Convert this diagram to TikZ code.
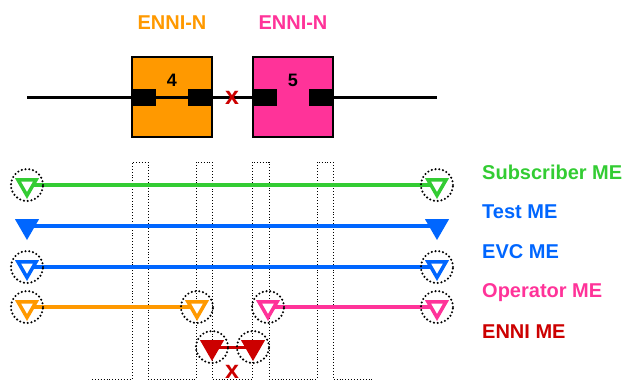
\documentclass[tikz,border=0pt]{standalone}
\usepackage{fontspec}
\setmainfont{Liberation Sans}
\usetikzlibrary{shapes.geometric,backgrounds}

\definecolor{enniorange}{HTML}{FF9900}
\definecolor{ennipink}{HTML}{FF3399}
\definecolor{megreen}{HTML}{33CC33}
\definecolor{meblue}{HTML}{0066FF}
\definecolor{mered}{HTML}{CC0000}

\begin{document}
\begin{tikzpicture}[
    x=1pt, y=-1pt,
    ennibox/.style={draw, line width=2pt, minimum width=80pt, minimum height=80pt, inner sep=0pt},
    port/.style={fill=black, minimum width=25pt, minimum height=17pt, inner sep=0pt},
    link/.style={line width=3pt, black},
    numnode/.style={font=\bfseries\fontsize{18}{20}\selectfont},
    ennitext/.style={font=\bfseries\fontsize{20}{24}\selectfont},
    xmark/.style={font=\bfseries\fontsize{25}{27}\selectfont, text=mered, inner sep=0pt},
    mep/.style={regular polygon, regular polygon sides=3, shape border rotate=180,
        draw=#1, fill=white, line width=3.5pt, minimum size=21pt, inner sep=0pt},
    mepfill/.style={mep=#1, fill=#1},
    mecirc/.style={circle, draw, line width=2.3pt, line cap=round, dash pattern=on 0pt off 3.8pt,
        minimum size=32pt, inner sep=0pt},
    meline/.style={line width=4pt},
    melabel/.style={font=\bfseries\fontsize{20}{24}\selectfont, anchor=west, inner sep=0pt}
]
\useasboundingbox (0,0) rectangle (632,386);

% ENNI boxes
\node[ennitext, text=enniorange] (enni4lab) at (172,23) {ENNI-N};
\node[ennitext, text=ennipink] (enni5lab) at (293,23) {ENNI-N};

\coordinate (lineL) at (27,97);
\coordinate (lineR) at (437,97);
\draw[link] (lineL) -- (252,97);
\draw[link] (333,97) -- (lineR);

\node[ennibox, fill=enniorange] (box4) at (172,97) {};
\node[ennibox, fill=ennipink] (box5) at (293,97) {};
\node[port, anchor=west] (p4a) at (box4.west) {};
\node[port, anchor=east] (p4b) at (box4.east) {};
\node[port, anchor=west] (p5a) at (box5.west) {};
\node[port, anchor=east] (p5b) at (box5.east) {};
\draw[link] (p4a) -- (p4b);
\node[numnode] (num4) at (172,80) {4};
\node[numnode] (num5) at (293,80) {5};
\node[xmark] (cut) at (232,98) {x};

% MEG end points
\foreach \name/\x/\y/\col in {subL/27/185/megreen, subR/437/185/megreen,
    evcL/27/267/meblue, evcR/437/267/meblue,
    opL1/27/307/enniorange, opR1/197/307/enniorange,
    opL2/268/307/ennipink, opR2/437/307/ennipink} {
    \node[mep=\col] (\name) at (\x,\y) {};
    \node[mecirc] at (\name) {};
}
\node[mepfill=meblue] (testL) at (27,226) {};
\node[mepfill=meblue] (testR) at (437,226) {};
\node[mepfill=mered] (enniL) at (212,347) {};
\node[mepfill=mered] (enniR) at (253,347) {};
\node[mecirc] at (enniL) {};
\node[mecirc] at (enniR) {};

\begin{scope}[on background layer]
% Dotted waveform
\draw[dotted, line width=0.9pt] (92,379) -| (132,162) -| (148,379) -| (196,162) -| (212,379)
    -| (252,162) -| (269,379) -| (317,162) -| (333,379) -- (372,379);
% ME lines
\draw[meline, megreen] (subL.center) -- (subR.center);
\draw[meline, meblue] (testL.center) -- (testR.center);
\draw[meline, meblue] (evcL.center) -- (evcR.center);
\draw[meline, enniorange] (opL1.center) -- (opR1.center);
\draw[meline, ennipink] (opL2.center) -- (opR2.center);
\draw[line width=3pt, mered] (enniL.center) -- (enniR.center);
\end{scope}

\node[xmark] (cut2) at (232,372) {x};

% Labels
\node[melabel, text=megreen] (sublab) at (482,172) {Subscriber ME};
\node[melabel, text=meblue] (testlab) at (482,212) {Test ME};
\node[melabel, text=meblue] (evclab) at (482,252) {EVC ME};
\node[melabel, text=ennipink] (oplab) at (482,293) {Operator ME};
\node[melabel, text=mered] (ennilab) at (482,332) {ENNI ME};
\end{tikzpicture}
\end{document}
